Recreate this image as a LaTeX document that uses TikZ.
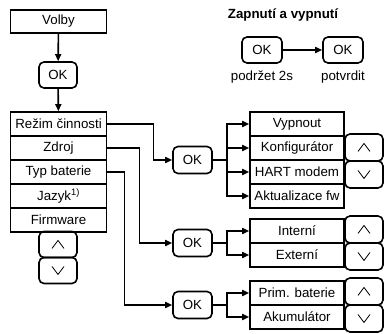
\documentclass[tikz,border=0pt]{standalone}
\usepackage{fontspec}
\setmainfont{Liberation Sans}
\usetikzlibrary{positioning,arrows.meta}

\tikzset{
	item/.style={draw, minimum width=96, minimum height=24, inner sep=0},
	btn/.style={draw, rounded corners=5, minimum width=38, minimum height=26, inner sep=0},
	upbtn/.style={btn, path picture={\draw[line width=0.8pt, sharp corners]
		([shift={(-6pt,-4pt)}]path picture bounding box.center) -- ++(6pt,8pt) -- ++(6pt,-8pt);}},
	dnbtn/.style={btn, path picture={\draw[line width=0.8pt, sharp corners]
		([shift={(-6pt,4pt)}]path picture bounding box.center) -- ++(6pt,-8pt) -- ++(6pt,8pt);}}
}

\begin{document}
\begin{tikzpicture}[x=1pt, y=-1pt, line width=1.6pt, font=\fontsize{13.3}{15}\selectfont,
	>={Triangle[length=7pt,width=6pt]}]
	\useasboundingbox (0,0) rectangle (384,334);
	
	% Start of the menu
	\node[item, minimum height=23] (rectVolby) at (58.5,21.5) {Volby};
	\node[btn] (okVolby) at (58,75) {OK};
	\draw[->] (rectVolby) -- (okVolby);
	
	% Main menu with its buttons
	\foreach \i/\txt in {1/Režim činnosti, 2/Zdroj, 3/Typ baterie, 4/Jazyk\textsuperscript{1)}, 5/Firmware}
		\node[item] (m\i) at (58.5,100+24*\i) {\txt};
	\draw[->] (okVolby) -- (m1);
	\node[upbtn] (upMain) at (58,244.5) {};
	\node[dnbtn] (dnMain) at (58,270.5) {};
	
	% Switching on and off
	\node[font=\fontsize{13.3}{15}\selectfont\bfseries] (title) at (283,15) {Zapnutí a vypnutí};
	\node[btn, minimum width=40] (okHold) at (262,50) {OK};
	\node[btn, minimum width=40] (okConf) at (343,50) {OK};
	\draw[->] (okHold) -- (okConf);
	\node[below=6pt of okHold, inner sep=0] () {podržet 2s};
	\node[below=6pt of okConf, inner sep=0] () {potvrdit};
	
	% The OK buttons of the submenus
	\node[btn, minimum width=39, minimum height=27] (okRezim) at (192.5,160) {OK};
	\node[btn, minimum width=39, minimum height=27] (okZdroj) at (192.5,243) {OK};
	\node[btn, minimum width=39, minimum height=27] (okTyp) at (192.5,305) {OK};
	\draw[->] (m1.east) -- ++(46,0) |- (okRezim);
	\draw[->] (m2.east) -- ++(32,0) |- (okZdroj);
	\draw[->] (m3.east) -- ++(17,0) |- (okTyp);
	
	% Submenu Režim činnosti
	\foreach \i/\txt in {1/Vypnout, 2/Konfigurátor, 3/HART modem, 4/Aktualizace fw}{
		\node[item, minimum width=94] (a\i) at (297,100+24*\i) {\txt};
		\draw[->] (okRezim.east) -- ++(14,0) |- (a\i.west);
	}
	\node[upbtn, minimum height=27] (upRezim) at (364,147.5) {};
	\node[dnbtn, minimum height=27] (dnRezim) at (364,174.5) {};
	
	% Submenu Zdroj
	\foreach \i/\txt in {1/Interní, 2/Externí}{
		\node[item, minimum width=94] (b\i) at (297,207+24*\i) {\txt};
		\draw[->] (okZdroj.east) -- ++(14,0) |- (b\i.west);
	}
	\node[upbtn, minimum height=27] (upZdroj) at (364,229.5) {};
	\node[dnbtn, minimum height=27] (dnZdroj) at (364,256.5) {};
	
	% Submenu Typ baterie
	\foreach \i/\txt in {1/Prim. baterie, 2/Akumulátor}{
		\node[item, minimum width=94] (c\i) at (297,269+24*\i) {\txt};
		\draw[->] (okTyp.east) -- ++(14,0) |- (c\i.west);
	}
	\node[upbtn, minimum height=27] (upTyp) at (364,291.5) {};
	\node[dnbtn, minimum height=27] (dnTyp) at (364,318.5) {};
\end{tikzpicture}
\end{document}
